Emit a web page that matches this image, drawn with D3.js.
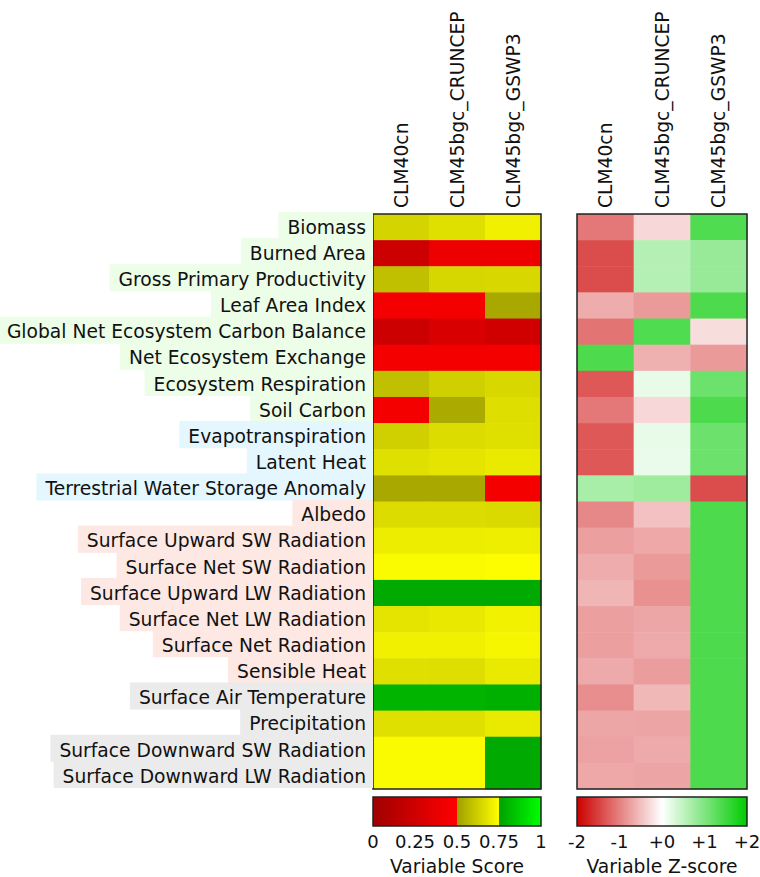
<!DOCTYPE html>
<html>
<head>
<meta charset="utf-8">
<script src="https://cdn.jsdelivr.net/npm/d3@7"></script>
<style>
  body { margin: 0; background: #fff; }
  text { font-family: "DejaVu Sans", sans-serif; fill: #111; }
</style>
</head>
<body>
<div id="chart"></div>
<script>
// models (columns) and variables (rows)
let models = ["CLM40cn", "CLM45bgc_CRUNCEP", "CLM45bgc_GSWP3"];
let variables = [
    "Biomass", "Burned Area", "Gross Primary Productivity", "Leaf Area Index",
    "Global Net Ecosystem Carbon Balance", "Net Ecosystem Exchange", "Ecosystem Respiration",
    "Soil Carbon", "Evapotranspiration", "Latent Heat", "Terrestrial Water Storage Anomaly",
    "Albedo", "Surface Upward SW Radiation", "Surface Net SW Radiation",
    "Surface Upward LW Radiation", "Surface Net LW Radiation", "Surface Net Radiation",
    "Sensible Heat", "Surface Air Temperature", "Precipitation",
    "Surface Downward SW Radiation", "Surface Downward LW Radiation"
];
// label group of each variable
let groups = [0,0,0,0,0,0,0,0,1,1,1,2,2,2,2,2,2,2,3,3,3,3];
let groupColors = ["#ecfde8", "#e4f6fe", "#fde8e3", "#ebebeb"];

// overall scores, one row per variable
let scores = [
    [0.637, 0.668, 0.711],
    [0.232, 0.400, 0.410],
    [0.584, 0.642, 0.647],
    [0.442, 0.442, 0.521],
    [0.232, 0.295, 0.253],
    [0.442, 0.442, 0.442],
    [0.584, 0.626, 0.647],
    [0.442, 0.526, 0.663],
    [0.626, 0.658, 0.668],
    [0.668, 0.679, 0.695],
    [0.521, 0.521, 0.442],
    [0.658, 0.658, 0.653],
    [0.703, 0.703, 0.705],
    [0.737, 0.737, 0.745],
    [0.776, 0.776, 0.776],
    [0.679, 0.689, 0.716],
    [0.711, 0.711, 0.726],
    [0.668, 0.663, 0.695],
    [0.803, 0.803, 0.792],
    [0.668, 0.668, 0.695],
    [0.737, 0.737, 0.776],
    [0.737, 0.737, 0.776]
];
// z-scores
let zscores = [
    [-1.06, -0.31,  1.37],
    [-1.40,  0.59,  0.81],
    [-1.40,  0.59,  0.81],
    [-0.65, -0.79,  1.40],
    [-1.09,  1.37, -0.27],
    [ 1.40, -0.62, -0.79],
    [-1.31,  0.18,  1.15],
    [-1.06, -0.31,  1.40],
    [-1.31,  0.18,  1.15],
    [-1.31,  0.16,  1.15],
    [ 0.68,  0.75, -1.40],
    [-0.93, -0.49,  1.40],
    [-0.75, -0.68,  1.40],
    [-0.65, -0.79,  1.40],
    [-0.57, -0.87,  1.40],
    [-0.75, -0.70,  1.40],
    [-0.75, -0.67,  1.40],
    [-0.67, -0.78,  1.40],
    [-0.89, -0.56,  1.40],
    [-0.70, -0.71,  1.40],
    [-0.73, -0.67,  1.40],
    [-0.68, -0.71,  1.40]
];

let scoreTicks = [0, 0.25, 0.5, 0.75, 1];
let scoreTickLabels = ["0", "0.25", "0.5", "0.75", "1"];
let zTicks = [-2, -1, 0, 1, 2];
let zTickLabels = ["-2", "-1", "+0", "+1", "+2"];

const width = 760, height = 877;
const fs = 18.7;
const svg = d3.select("#chart").append("svg")
    .attr("width", width)
    .attr("height", height);

const mapTop = 214, mapBottom = 789;
const y = d3.scaleBand().domain(variables).range([mapTop, mapBottom]);
const xLeft = d3.scaleBand().domain(models).range([373, 541]);
const xRight = d3.scaleBand().domain(models).range([577, 747]);

// score colormap: three segments
const redPart = d3.scaleLinear().domain([0, 0.5]).range(["#a00000", "#ff0000"]);
const yelPart = d3.scaleLinear().domain([0.5, 0.75]).range(["#a0a000", "#ffff00"]);
const grnPart = d3.scaleLinear().domain([0.75, 1]).range(["#00a000", "#00ff00"]);
function scoreColor(v) {
    if (v < 0.5) return redPart(v);
    if (v < 0.75) return yelPart(v);
    return grnPart(v);
}
const zColor = d3.scaleLinear().domain([-2, 0, 2])
    .range(["#cc0000", "#ffffff", "#00cc00"]).clamp(true);

function heatmap(x, values, color) {
    const g = svg.append("g");
    variables.forEach((v, i) => {
        g.selectAll(null)
            .data(values[i])
            .enter()
            .append("rect")
            .attr("x", (d, j) => x(models[j]))
            .attr("y", y(v))
            .attr("width", x.bandwidth() + 0.5)
            .attr("height", y.bandwidth() + 0.5)
            .attr("fill", d => color(d));
    });
    g.append("rect")
        .attr("x", x.range()[0])
        .attr("y", mapTop)
        .attr("width", x.range()[1] - x.range()[0])
        .attr("height", mapBottom - mapTop)
        .attr("fill", "none")
        .attr("stroke", "#222")
        .attr("stroke-width", 1.5);

    // column headers
    g.selectAll(".col")
        .data(models)
        .enter()
        .append("text")
        .attr("transform", d => `translate(${x(d) + x.bandwidth() / 2},208) rotate(-90)`)
        .attr("dy", "0.36em")
        .attr("font-size", fs)
        .text(d => d);
}

heatmap(xLeft, scores, scoreColor);
heatmap(xRight, zscores, zColor);

// row labels with coloured boxes
const labels = svg.append("g");
variables.forEach((v, i) => {
    const row = labels.append("g");
    const t = row.append("text")
        .attr("x", 366)
        .attr("y", y(v) + y.bandwidth() / 2)
        .attr("dy", "0.36em")
        .attr("text-anchor", "end")
        .attr("font-size", fs)
        .text(v);
    const w = t.node().getComputedTextLength();
    row.insert("rect", "text")
        .attr("x", 366 - w - 9)
        .attr("y", y(v) - 2)
        .attr("width", w + 16)
        .attr("height", y.bandwidth() + 1)
        .attr("fill", groupColors[groups[i]]);
});

// colour bars
function colorbar(x0, x1, domain, color, ticks, tickLabels, title) {
    const cx = d3.scaleLinear().domain(domain).range([x0, x1]);
    const px = d3.range(x0, x1);
    const g = svg.append("g");
    g.selectAll("rect")
        .data(px)
        .enter()
        .append("rect")
        .attr("x", d => d)
        .attr("y", 797)
        .attr("width", 1)
        .attr("height", 29)
        .attr("shape-rendering", "crispEdges")
        .attr("fill", d => color(cx.invert(d + 0.5)));
    g.append("rect")
        .attr("x", x0).attr("y", 797)
        .attr("width", x1 - x0).attr("height", 29)
        .attr("fill", "none")
        .attr("stroke", "#222")
        .attr("stroke-width", 1.5);
    g.selectAll(".tick")
        .data(ticks)
        .enter()
        .append("text")
        .attr("x", d => cx(d))
        .attr("y", 848)
        .attr("text-anchor", "middle")
        .attr("font-size", 18)
        .text((d, k) => tickLabels[k]);
    g.append("text")
        .attr("x", (x0 + x1) / 2)
        .attr("y", 873)
        .attr("text-anchor", "middle")
        .attr("font-size", fs)
        .text(title);
}

colorbar(373, 541, [0, 1], scoreColor, scoreTicks, scoreTickLabels, "Variable Score");
colorbar(577, 747, [-2, 2], zColor, zTicks, zTickLabels, "Variable Z-score");
</script>
</body>
</html>
